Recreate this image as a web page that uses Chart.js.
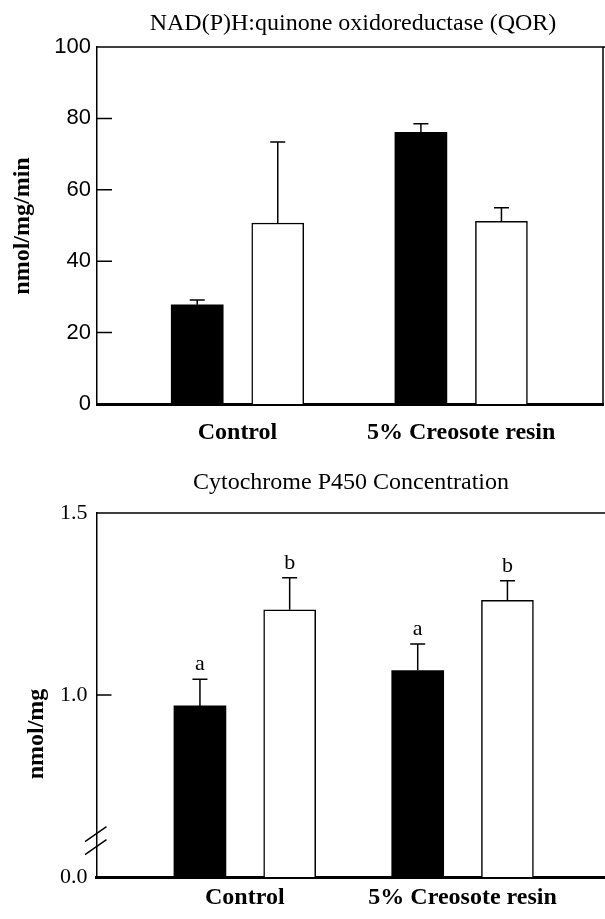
<!DOCTYPE html>
<html>
<head>
<meta charset="utf-8">
<script src="https://cdn.jsdelivr.net/npm/chart.js@4.4.1/dist/chart.umd.min.js"></script>
<style>
  html, body { margin: 0; padding: 0; background: #fff; }
  .panel { position: relative; width: 605px; }
  #qorBox { height: 450px; }
  #p450Box { height: 469px; }
</style>
</head>
<body>
<div class="panel" id="qorBox"><canvas id="qorChart"></canvas></div>
<div class="panel" id="p450Box"><canvas id="p450Chart"></canvas></div>
<script>
const categories = ['Control', '5% Creosote resin'];

// QOR activity, nmol/mg/min (filled / open bars, upper error)
const qorFilled = [27.8, 76.1];
const qorFilledErr = [1.3, 2.4];
const qorOpen = [50.7, 51.2];
const qorOpenErr = [22.7, 3.8];
const qorTicks = [0, 20, 40, 60, 80, 100];

// Cytochrome P450, nmol/mg (axis broken below 1.0, bottom drawn as 0.0)
const p450Filled = [0.970, 1.067];
const p450FilledErr = [0.073, 0.073];
const p450Open = [1.234, 1.260];
const p450OpenErr = [0.088, 0.054];
const p450FilledLetters = ['a', 'a'];
const p450OpenLetters = ['b', 'b'];
const p450Ticks = [0.5, 1.0, 1.5];
const p450TickLabels = ['0.0', '1.0', '1.5'];

const SERIF = "'Liberation Serif', 'Times New Roman', serif";
const SANS = "'Liberation Sans', Arial, sans-serif";

// titles, frame, inward ticks, error bars, letters, axis break
const figurePlugin = {
    id: 'figureExtras',
    afterDatasetsDraw(chart, args, opts) {
        const { ctx, chartArea: a } = chart;
        const y = chart.scales.y;
        ctx.save();
        ctx.strokeStyle = '#000';
        ctx.fillStyle = '#000';
        ctx.lineWidth = 1.5;

        ctx.beginPath();
        ctx.moveTo(a.left, a.top);
        ctx.lineTo(chart.width, a.top);
        if (opts.rightBorder) {
            ctx.moveTo(a.right, a.top);
            ctx.lineTo(a.right, a.bottom);
        }
        opts.innerTicks.forEach(v => {
            const py = y.getPixelForValue(v);
            ctx.moveTo(a.left, py);
            ctx.lineTo(a.left + 15, py);
        });
        ctx.stroke();

        chart.data.datasets.forEach((ds, di) => {
            const meta = chart.getDatasetMeta(di);
            meta.data.forEach((bar, i) => {
                const topY = y.getPixelForValue(ds.data[i].y + ds.errors[i]);
                ctx.beginPath();
                ctx.moveTo(bar.x, bar.y);
                ctx.lineTo(bar.x, topY);
                ctx.moveTo(bar.x - 7.5, topY);
                ctx.lineTo(bar.x + 7.5, topY);
                ctx.stroke();
                if (ds.letters) {
                    ctx.font = '22px ' + SERIF;
                    ctx.textAlign = 'center';
                    ctx.textBaseline = 'alphabetic';
                    ctx.fillText(ds.letters[i], bar.x, topY - 9);
                }
            });
        });

        if (opts.breakAt !== undefined) {
            const cy = y.getPixelForValue(opts.breakAt);
            ctx.beginPath();
            [-6.5, 6.5].forEach(d => {
                ctx.moveTo(a.left - 11.5, cy + d + 7.5);
                ctx.lineTo(a.left + 10, cy + d - 7.5);
            });
            ctx.stroke();
        }

        ctx.textAlign = 'center';
        ctx.textBaseline = 'middle';
        ctx.font = '24px ' + SERIF;
        ctx.fillText(opts.title, opts.titleX, opts.titleY);

        ctx.translate(opts.yTitleX, opts.yTitleY);
        ctx.rotate(-Math.PI / 2);
        ctx.font = 'bold 24px ' + SERIF;
        ctx.fillText(opts.yTitle, 0, 0);
        ctx.restore();
    }
};

function barSet(values, errors, shift, fill, letters) {
    return {
        data: values.map((v, i) => ({ x: i + shift, y: v })),
        errors: errors,
        letters: letters,
        backgroundColor: fill,
        borderColor: '#000',
        borderWidth: fill === '#000' ? 0 : 1.5
    };
}

function categoryAxis(min, max, height, padding) {
    return {
        type: 'linear',
        min: min,
        max: max,
        offset: false,
        bounds: 'data',
        z: 1,
        grid: { display: false, drawTicks: false, offset: false },
        border: { color: '#000', width: 3 },
        afterBuildTicks: s => { s.ticks = categories.map((c, i) => ({ value: i })); },
        afterFit: s => { s.height = height; },
        ticks: {
            callback: v => categories[v],
            font: { family: SERIF, size: 24, weight: 'bold' },
            color: '#000',
            padding: padding,
            maxRotation: 0,
            autoSkip: false
        }
    };
}

new Chart(document.getElementById('qorChart'), {
    type: 'bar',
    data: {
        datasets: [
            barSet(qorFilled, qorFilledErr, -0.18, '#000'),
            barSet(qorOpen, qorOpenErr, 0.18, '#fff')
        ]
    },
    options: {
        responsive: true,
        maintainAspectRatio: false,
        animation: false,
        layout: { padding: { top: 47, right: 2 } },
        datasets: { bar: { grouped: false, barThickness: 52 } },
        plugins: {
            legend: { display: false },
            tooltip: { enabled: false },
            figureExtras: {
                title: 'NAD(P)H:quinone oxidoreductase (QOR)',
                titleX: 353, titleY: 24,
                yTitle: 'nmol/mg/min',
                yTitleX: 23, yTitleY: 226,
                rightBorder: true,
                innerTicks: [20, 40, 60, 80]
            }
        },
        scales: {
            x: categoryAxis(-0.628, 1.634, 46, 14),
            y: {
                min: 0,
                max: 100,
                grid: { display: false, drawTicks: false },
                border: { color: '#000', width: 1.5 },
                afterBuildTicks: s => { s.ticks = qorTicks.map(v => ({ value: v })); },
                afterFit: s => { s.width = 97; },
                ticks: {
                    font: { family: SANS, size: 22 },
                    color: '#000',
                    padding: 6
                }
            }
        }
    },
    plugins: [figurePlugin]
});

new Chart(document.getElementById('p450Chart'), {
    type: 'bar',
    data: {
        datasets: [
            barSet(p450Filled, p450FilledErr, -0.206, '#000', p450FilledLetters),
            barSet(p450Open, p450OpenErr, 0.206, '#fff', p450OpenLetters)
        ]
    },
    options: {
        responsive: true,
        maintainAspectRatio: false,
        animation: false,
        layout: { padding: { top: 63 } },
        datasets: { bar: { grouped: false, barThickness: 52 } },
        plugins: {
            legend: { display: false },
            tooltip: { enabled: false },
            figureExtras: {
                title: 'Cytochrome P450 Concentration',
                titleX: 351, titleY: 33,
                yTitle: 'nmol/mg',
                yTitleX: 37, yTitleY: 284,
                rightBorder: false,
                innerTicks: [1.0],
                breakAt: 0.6
            }
        },
        scales: {
            x: categoryAxis(-0.681, 1.654, 42, 6),
            y: {
                min: 0.5,
                max: 1.5,
                grid: { display: false, drawTicks: false },
                border: { color: '#000', width: 1.5 },
                afterBuildTicks: s => { s.ticks = p450Ticks.map(v => ({ value: v })); },
                afterFit: s => { s.width = 96.5; },
                ticks: {
                    callback: v => p450TickLabels[p450Ticks.indexOf(v)],
                    font: { family: SERIF, size: 22 },
                    color: '#000',
                    padding: 9
                }
            }
        }
    },
    plugins: [figurePlugin]
});
</script>
</body>
</html>
